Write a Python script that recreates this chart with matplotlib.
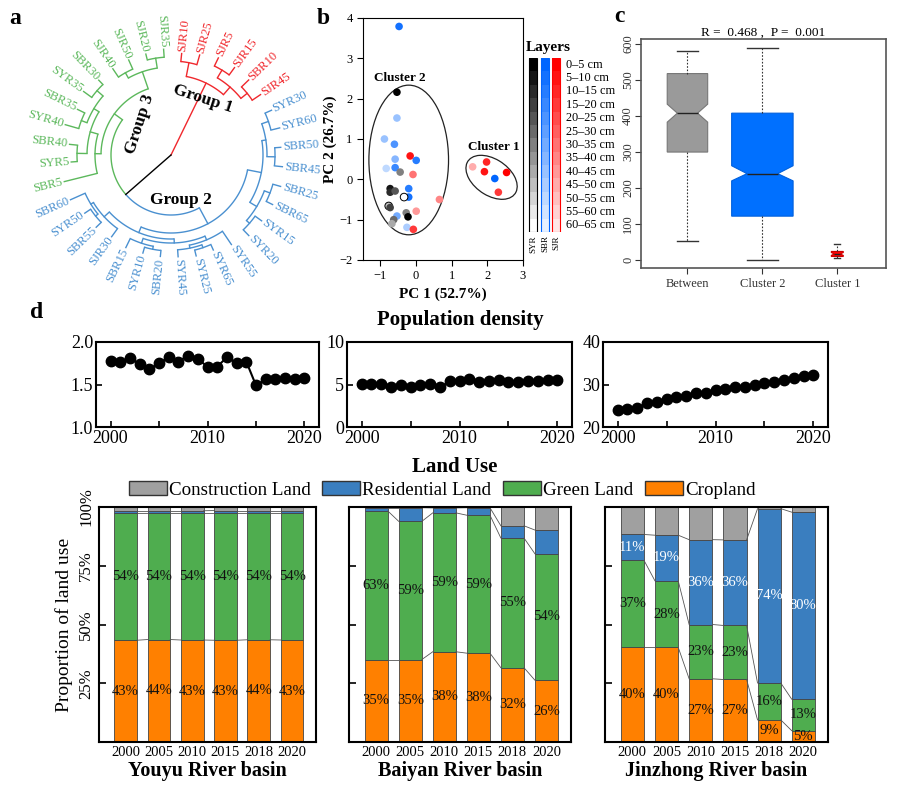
import numpy as np
import matplotlib
matplotlib.use('Agg')
import matplotlib.pyplot as plt
from matplotlib.patches import Ellipse, Rectangle, Patch

plt.rcParams['font.family'] = ['Liberation Serif', 'DejaVu Serif']

W, H = 919, 790

# ---------------- data ----------------
# a: dendrogram, leaves listed clockwise starting at SJR10
leaf_names = ['SJR10', 'SJR25', 'SJR5', 'SJR15', 'SBR10', 'SJR45',
              'SYR30', 'SYR60', 'SBR50', 'SBR45', 'SBR25', 'SBR65', 'SYR15', 'SYR20',
              'SYR55', 'SYR65', 'SYR25', 'SYR45', 'SBR20', 'SYR10', 'SBR15', 'SJR30',
              'SBR55', 'SYR50', 'SBR60',
              'SBR5', 'SYR5', 'SBR40', 'SYR40', 'SBR35', 'SYR35', 'SBR30', 'SJR40',
              'SJR50', 'SJR20', 'SJR35']
leaf_groups = ['1'] * 6 + ['2'] * 19 + ['3'] * 11
leaf_r = [102, 104, 108, 108, 108, 108,
          110, 112, 110, 112, 114, 113, 112, 112,
          108, 104, 104, 102, 102, 102, 103, 101, 104, 104, 110,
          110, 100, 102, 110, 104, 108, 104, 104, 104, 104, 106]
# (node, child, child, node radius)
merges = [
    ('r1', 'SJR10', 'SJR25', 94), ('r2', 'SJR5', 'SJR15', 99), ('r3', 'SBR10', 'SJR45', 98),
    ('r4', 'r2', 'r3', 90), ('R', 'r1', 'r4', 80),
    ('b1', 'SYR30', 'SYR60', 103), ('b2', 'SBR50', 'SBR45', 104), ('b3', 'b1', 'b2', 96),
    ('b4', 'SBR25', 'SBR65', 106), ('b5', 'SYR15', 'SYR20', 104), ('b6', 'b4', 'b5', 100),
    ('b7', 'b3', 'b6', 92), ('b8', 'SYR65', 'SYR25', 98), ('b9', 'b8', 'SYR45', 95),
    ('b10', 'SYR55', 'b9', 92), ('b11', 'SBR20', 'SYR10', 96), ('b12', 'b11', 'SBR15', 93),
    ('b13', 'b10', 'b12', 88), ('b14', 'SBR55', 'SYR50', 97), ('b15', 'b14', 'SBR60', 94),
    ('b16', 'SJR30', 'b15', 91), ('b17', 'b13', 'b16', 84), ('B', 'b7', 'b17', 78),
    ('g1', 'SYR5', 'SBR40', 94), ('g2', 'SYR40', 'SBR35', 96), ('g3', 'SYR35', 'SBR30', 98),
    ('g4', 'g2', 'g3', 90), ('g5', 'g1', 'g4', 84), ('g6', 'SBR5', 'g5', 76),
    ('g7', 'SJR40', 'SJR50', 94), ('g8', 'SJR20', 'SJR35', 98), ('g9', 'g7', 'g8', 88),
    ('G', 'g6', 'g9', 70),
    ('GB', 'B', 'G', 60), ('root', 'R', 'GB', 0),
]
group_colors = {'1': '#f0282d', '2': '#4a90d0', '3': '#5cb85c'}

# b: PCA scores
pc1 = [-0.47, -0.53, -0.53, -0.88, -0.60, -0.58, -0.58, -0.83, -0.44, -0.16, 0.01, -0.08,
       -0.20, -0.20, -0.33, -0.72, -0.72, -0.58, 0.66, -0.76, -0.72, 0.01, -0.27, -0.22,
       -0.53, -0.62, -0.67, -0.25, -0.07, 1.59, 1.98, 1.92, 2.21, 2.54, 2.31]
pc2 = [3.79, 2.16, 1.52, 1.00, 0.87, 0.50, 0.29, 0.27, 0.18, 0.58, 0.47, 0.12,
       -0.23, -0.44, -0.44, -0.23, -0.32, -0.29, -0.50, -0.66, -0.70, -0.79, -0.83, -0.93,
       -0.91, -1.00, -1.10, -1.19, -1.24, 0.31, 0.43, 0.19, 0.02, 0.17, -0.32]
pc_site = ['SBR', 'SYR', 'SBR', 'SBR', 'SBR', 'SBR', 'SBR', 'SBR', 'SYR', 'SJR', 'SBR', 'SJR',
           'SBR', 'SBR', 'SYR', 'SYR', 'SYR', 'SYR', 'SJR', 'SYR', 'SYR', 'SJR', 'SYR', 'SYR',
           'SBR', 'SYR', 'SYR', 'SBR', 'SJR', 'SJR', 'SJR', 'SJR', 'SBR', 'SJR', 'SJR']
pc_layer = [1, 0, 8, 8, 4, 7, 3, 10, 6, 1, 2, 6,
            2, 1, 12, 1, 2, 4, 7, 9, 3, 8, 6, 0,
            6, 5, 8, 9, 3, 9, 2, 1, 0, 0, 3]
layer_labels = ['0–5 cm', '5–10 cm', '10–15 cm', '15–20 cm', '20–25 cm', '25–30 cm',
                '30–35 cm', '35–40 cm', '40–45 cm', '45–50 cm', '50–55 cm', '55–60 cm',
                '60–65 cm']
sites = ['SYR', 'SBR', 'SJR']
# cluster ellipses: centre x, centre y, width, height, angle
cluster_ellipses = [(-0.2, 0.48, 2.23, 3.71, 0), (2.12, 0.05, 1.55, 0.92, -28)]

# c: ANOSIM boxplot
box_labels = ['Between', 'Cluster 2', 'Cluster 1']
box_whislo = [52, 0, 5]
box_q1 = [300, 122, 10]
box_med = [408, 240, 17]
box_q3 = [518, 408, 24]
box_whishi = [582, 588, 44]
box_cilo = [383, 220, 13]
box_cihi = [433, 262, 21]
box_w = [0.54, 0.82, 0.16]

# d: population density
years = list(range(2000, 2021))
pop_youyu = [1.78, 1.76, 1.81, 1.74, 1.68, 1.75, 1.82, 1.77, 1.84, 1.80, 1.71, 1.71,
             1.82, 1.75, 1.77, 1.49, 1.56, 1.565, 1.58, 1.56, 1.58]
pop_baiyan = [5.1, 5.05, 5.1, 4.67, 4.9, 4.67, 4.9, 5.05, 4.67, 5.37, 5.41, 5.65,
              5.25, 5.41, 5.49, 5.33, 5.33, 5.41, 5.41, 5.49, 5.57]
pop_jinzhong = [24.1, 24.3, 24.5, 25.7, 25.9, 26.5, 27.1, 27.2, 28.1, 28.1, 28.6, 29.0,
                29.4, 29.4, 29.9, 30.4, 30.7, 31.1, 31.6, 31.9, 32.2]

# d: land use (%)
lu_years = ['2000', '2005', '2010', '2015', '2018', '2020']
youyu_crop = [43.3, 43.6, 43.4, 43.3, 43.5, 43.4]
youyu_green = [54.1, 53.8, 54.0, 54.1, 53.9, 54.0]
youyu_resid = [1.0, 1.0, 1.0, 1.1, 1.1, 1.1]
youyu_constr = [1.6, 1.6, 1.6, 1.5, 1.5, 1.5]
baiyan_crop = [35.1, 35.1, 38.4, 37.8, 31.6, 26.3]
baiyan_green = [63.2, 58.8, 59.1, 58.7, 55.2, 53.8]
baiyan_resid = [1.4, 5.8, 2.1, 3.2, 5.2, 10.1]
baiyan_constr = [0.3, 0.3, 0.4, 0.3, 8.0, 9.8]
jinzhong_crop = [40.3, 40.3, 26.9, 26.6, 9.4, 4.8]
jinzhong_green = [37.0, 28.3, 23.1, 23.0, 15.7, 13.4]
jinzhong_resid = [11.0, 19.4, 36.1, 36.4, 74.2, 79.6]
jinzhong_constr = [11.7, 12.0, 13.9, 14.0, 0.7, 2.2]
basins = ['Youyu River basin', 'Baiyan River basin', 'Jinzhong River basin']
lu_names = ['Construction Land', 'Residential Land', 'Green Land', 'Cropland']
lu_colors = ['#a0a0a0', '#3a7ebf', '#4fad4f', '#ff8000']


def px(l, t, r, b):
    """pixel box -> figure fraction rect"""
    return [l / W, 1 - b / H, (r - l) / W, (b - t) / H]


fig = plt.figure(figsize=(W / 100, H / 100), dpi=100)

# ================= a: circular dendrogram =================
axa = fig.add_axes(px(0, 0, 330, 300))
axa.set_xlim(0, 330)
axa.set_ylim(300, 0)
axa.axis('off')
cx, cy = 171, 155

ang = {n: 84 - 10 * i for i, n in enumerate(leaf_names)}
rad = dict(zip(leaf_names, leaf_r))
grp = dict(zip(leaf_names, leaf_groups))
kids = {}
for node, c1, c2, r in merges:
    kids[node] = (c1, c2)
    rad[node] = r
    ang[node] = (ang[c1] + ang[c2]) / 2


def leaves_of(n):
    if n not in kids:
        return [n]
    return leaves_of(kids[n][0]) + leaves_of(kids[n][1])


def color_of(n):
    gs = {grp[l] for l in leaves_of(n)}
    return group_colors[gs.pop()] if len(gs) == 1 else 'black'


def pxy(r, deg):
    t = np.deg2rad(deg)
    return cx + r * np.cos(t), cy - r * np.sin(t)


for node, c1, c2, r in merges:
    for c in (c1, c2):
        col = color_of(c)
        if r > 0:
            a = np.linspace(ang[node], ang[c], 60)
            x, y = pxy(r, a)
            axa.plot(x, y, color=col, lw=1.0, solid_capstyle='butt')
        x0, y0 = pxy(r, ang[c])
        x1, y1 = pxy(rad[c], ang[c])
        axa.plot([x0, x1], [y0, y1], color=col, lw=1.0)

for n in leaf_names:
    a = ((ang[n] + 180) % 360) - 180
    x, y = pxy(rad[n] + 2, ang[n])
    if -90 <= a <= 90:
        rot, ha = a, 'left'
    else:
        rot, ha = a - 180 if a > 0 else a + 180, 'right'
    axa.text(x, y, n, rotation=rot, ha=ha, va='center', rotation_mode='anchor',
             fontsize=9, color=group_colors[grp[n]])

axa.text(203, 99, 'Group 1', rotation=-18, ha='center', va='center',
         fontsize=12.5, fontweight='bold')
axa.text(140, 124, 'Group 3', rotation=72, ha='center', va='center',
         fontsize=12.5, fontweight='bold')
axa.text(181, 200, 'Group 2', ha='center', va='center', fontsize=12.5, fontweight='bold')

# ================= b: PCA =================
axb = fig.add_axes(px(363, 18, 523, 260))
site_base = {'SYR': (0.0, 0.0, 0.0), 'SBR': (0.0, 0.4, 1.0), 'SJR': (1.0, 0.0, 0.0)}
site_edge = {'SYR': 'black', 'SBR': '#0066ff', 'SJR': 'red'}


def layer_color(site, k):
    base = np.array(site_base[site])
    t = k / 12 * (1.0 if site == 'SYR' else 0.9)
    return tuple(base * (1 - t) + t)


cols = [layer_color(s, k) for s, k in zip(pc_site, pc_layer)]
edges = ['black' if (s == 'SYR' and k >= 9) else 'none' for s, k in zip(pc_site, pc_layer)]
axb.scatter(pc1, pc2, s=30, c=cols, edgecolors=edges, linewidths=0.7, zorder=3)
for ex, ey, ew, eh, ea in cluster_ellipses:
    axb.add_patch(Ellipse((ex, ey), ew, eh, angle=ea, fill=False, ec='#222222', lw=0.9))
axb.text(-0.44, 2.5, 'Cluster 2', ha='center', va='center', fontsize=9.5, fontweight='bold')
axb.text(2.17, 0.79, 'Cluster 1', ha='center', va='center', fontsize=9.5, fontweight='bold')
axb.set_xlim(-1.48, 3.0)
axb.set_ylim(-2, 4)
axb.set_xticks([-1, 0, 1, 2, 3])
axb.set_yticks([-2, -1, 0, 1, 2, 3, 4])
axb.tick_params(labelsize=9, direction='out', length=4, width=0.8)
for sp in axb.spines.values():
    sp.set_linewidth(0.8)
axb.set_xlabel('PC 1 (52.7%)', fontsize=11, fontweight='bold', labelpad=4)
axb.set_ylabel('PC 2 (26.7%)', fontsize=11, fontweight='bold', labelpad=2)

# layer legend
axl = fig.add_axes(px(525, 58, 565, 232))
axl.set_xlim(525, 565)
axl.set_ylim(13, 0)
axl.axis('off')
col_left = [529, 541, 552]
for s, xl in zip(sites, col_left):
    for k in range(13):
        axl.bar(xl + 4, 1, bottom=k, width=8, color=layer_color(s, k), lw=0)
    axl.add_patch(Rectangle((xl, 0), 8, 13, fill=False, ec=site_edge[s], lw=0.8))
    axl.text(xl + 4, 13.25, s, rotation=90, ha='center', va='top', fontsize=6.5,
             clip_on=False)
for k, lab in enumerate(layer_labels):
    axl.text(566, k + 0.5, lab, ha='left', va='center', fontsize=8.8, clip_on=False)
fig.text(548 / W, 1 - 48 / H, 'Layers', ha='center', va='center', fontsize=11,
         fontweight='bold')

# ================= c: ANOSIM boxplot =================
axc = fig.add_axes(px(641, 39, 886, 268))
stats = []
for i in range(3):
    stats.append(dict(label=box_labels[i], whislo=box_whislo[i], q1=box_q1[i],
                      med=box_med[i], q3=box_q3[i], whishi=box_whishi[i],
                      cilo=box_cilo[i], cihi=box_cihi[i], fliers=[]))
bp = axc.bxp(stats, positions=[1, 2, 3], widths=box_w,
             capwidths=[w * 0.5 for w in box_w], shownotches=True, patch_artist=True,
             showfliers=False,
             whiskerprops=dict(linestyle=(0, (1.5, 1.5)), color='#333333', lw=0.8),
             capprops=dict(color='#333333', lw=1.0),
             medianprops=dict(color='#222222', lw=1.0))
box_fill = ['#9a9a9a', '#0070ff', '#ff0000']
box_edge = ['#777777', '#0060dd', '#cc0000']
for patch, fc, ec in zip(bp['boxes'], box_fill, box_edge):
    patch.set_facecolor(fc)
    patch.set_edgecolor(ec)
    patch.set_linewidth(0.8)
axc.set_xlim(0.38, 3.65)
axc.set_ylim(-22, 614)
axc.set_yticks([0, 100, 200, 300, 400, 500, 600])
axc.tick_params(labelsize=9, direction='out', length=4, width=0.8, colors='#333333')
axc.tick_params(axis='y', pad=1)
for lab in axc.get_yticklabels():
    lab.set_rotation(90)
    lab.set_va('center')
for sp in axc.spines.values():
    sp.set_linewidth(1.2)
    sp.set_color('#555555')
axc.set_title('R =  0.468 ,  P =  0.001', fontsize=9.5, pad=2)

# ================= d: population density =================
fig.text(37 / W, 1 - 312 / H, 'd', fontsize=17, fontweight='bold', ha='center', va='center')
fig.text(15 / W, 1 - 18 / H, 'a', fontsize=17, fontweight='bold', ha='center', va='center')
fig.text(323 / W, 1 - 18 / H, 'b', fontsize=17, fontweight='bold', ha='center', va='center')
fig.text(619 / W, 1 - 16 / H, 'c', fontsize=17, fontweight='bold', ha='center', va='center')
fig.text(460 / W, 1 - 320 / H, 'Population density', fontsize=15, fontweight='bold',
         ha='center', va='center')

line_boxes = [(96, 342, 319, 427), (347, 342, 572, 427), (603, 342, 828, 427)]
line_data = [pop_youyu, pop_baiyan, pop_jinzhong]
line_lims = [(1.0, 2.0), (0, 10), (20, 40)]
line_ticks = [([1.0, 1.5, 2.0], ['1.0', '1.5', '2.0']),
              ([0, 5, 10], ['0', '5', '10']),
              ([20, 30, 40], ['20', '30', '40'])]
for box, vals, lim, (tk, tl) in zip(line_boxes, line_data, line_lims, line_ticks):
    ax = fig.add_axes(px(*box))
    ax.plot(years, vals, color='black', lw=1.5, marker='o', ms=7.5)
    ax.set_xlim(1998.5, 2021.5)
    ax.set_ylim(*lim)
    ax.set_xticks([2000, 2010, 2020])
    ax.set_xticks([2005, 2015], minor=True)
    ax.set_yticks(tk)
    ax.set_yticklabels(tl)
    ax.tick_params(which='both', direction='in', labelsize=13, length=4, width=1.2, pad=2)
    for sp in ax.spines.values():
        sp.set_linewidth(1.5)

# ================= d: land use =================
fig.text(455 / W, 1 - 467 / H, 'Land Use', fontsize=15, fontweight='bold',
         ha='center', va='center')
handles = [Patch(facecolor=c, edgecolor='#333333', lw=1.0, label=l)
           for c, l in zip(lu_colors, lu_names)]
fig.legend(handles=handles, loc='center', bbox_to_anchor=(442 / W, 1 - 490 / H), ncol=4,
           frameon=False, fontsize=13.7, handlelength=2.0, handleheight=0.7,
           handletextpad=0.12, columnspacing=0.6, borderaxespad=0, borderpad=0)

bar_boxes = [(99, 507, 316, 742), (349, 507, 571, 742), (605, 507, 828, 742)]
bar_sets = [(youyu_crop, youyu_green, youyu_resid, youyu_constr),
            (baiyan_crop, baiyan_green, baiyan_resid, baiyan_constr),
            (jinzhong_crop, jinzhong_green, jinzhong_resid, jinzhong_constr)]
label_resid = [False, False, True]
bw = 0.68
xpos = np.arange(len(lu_years))
for j, (box, (crop, green, resid, constr), basin) in enumerate(zip(bar_boxes, bar_sets, basins)):
    ax = fig.add_axes(px(*box))
    crop, green, resid, constr = map(np.array, (crop, green, resid, constr))
    layers = [(crop, lu_colors[3]), (green, lu_colors[2]), (resid, lu_colors[1]),
              (constr, lu_colors[0])]
    bottom = np.zeros(len(lu_years))
    bounds = []
    for k, (vals, col) in enumerate(layers):
        ax.bar(xpos, vals, bw, bottom=bottom, color=col, edgecolor='#444444', lw=0.6)
        show = k < 2 or (k == 2 and label_resid[j])
        if show:
            for x, v, b in zip(xpos, vals, bottom):
                ax.text(x, b + v / 2, f'{round(v)}%', ha='center', va='center',
                        fontsize=10.5, color='white' if k == 2 else '#111111')
        bottom = bottom + vals
        if k < 3:
            bounds.append(bottom.copy())
    for bd in bounds:
        for i in range(len(lu_years) - 1):
            ax.plot([xpos[i] + bw / 2, xpos[i + 1] - bw / 2], [bd[i], bd[i + 1]],
                    color='#555555', lw=0.6)
    ax.set_xlim(-0.8, 5.72)
    ax.set_ylim(0, 100)
    ax.set_xticks(xpos)
    ax.set_xticklabels(lu_years)
    ax.set_yticks([25, 50, 75, 100])
    ax.tick_params(axis='x', length=0, labelsize=10.5, pad=3)
    ax.tick_params(axis='y', direction='in', length=5, width=1.2)
    if j == 0:
        ax.set_yticklabels(['25%', '50%', '75%', '100%'], fontsize=12)
        for lab in ax.get_yticklabels():
            lab.set_rotation(90)
            lab.set_va('center')
        ax.set_ylabel('Proportion of land use', fontsize=14, labelpad=4)
    else:
        ax.set_yticklabels([])
    for sp in ax.spines.values():
        sp.set_linewidth(1.5)
    ax.set_xlabel(basin, fontsize=14.5, fontweight='bold', labelpad=1)

fig.savefig('out.png', dpi=100)
